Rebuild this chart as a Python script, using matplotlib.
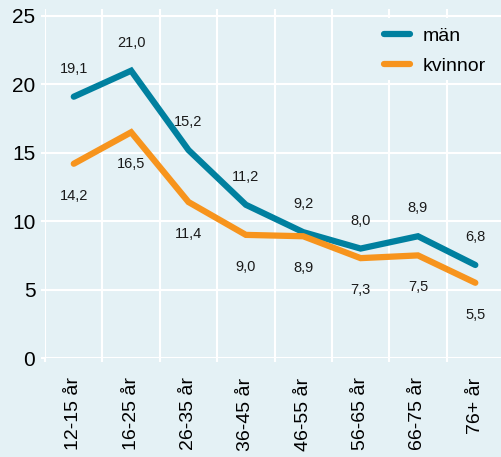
import matplotlib.pyplot as plt
from matplotlib.patches import Rectangle
import numpy as np

plt.rcParams['font.family'] = ['Liberation Sans', 'DejaVu Sans']

age_groups = ['12-15 år', '16-25 år', '26-35 år', '36-45 år', '46-55 år', '56-65 år', '66-75 år', '76+ år']
men = [19.1, 21.0, 15.2, 11.2, 9.2, 8.0, 8.9, 6.8]
women = [14.2, 16.5, 11.4, 9.0, 8.9, 7.3, 7.5, 5.5]

bg = '#e4f1f5'
blue = '#00809f'
orange = '#f7941d'

fig = plt.figure(figsize=(5.01, 4.57), dpi=100, facecolor=bg)
ax = fig.add_axes([0.09, 0.2166, 0.916, 0.7634], facecolor=bg)

x = np.arange(len(age_groups))
ax.plot(x, men, color=blue, lw=4.5, solid_capstyle='round', solid_joinstyle='miter', label='män', zorder=3)
ax.plot(x, women, color=orange, lw=4.5, solid_capstyle='round', solid_joinstyle='miter', label='kvinnor', zorder=3)

def fmt(v):
    return f'{v:.1f}'.replace('.', ',')

for xi, m, w in zip(x, men, women):
    ax.annotate(fmt(m), (xi, m), xytext=(0, 20), textcoords='offset points',
                ha='center', va='center', fontsize=10.5, color='#1a1a1a')
    ax.annotate(fmt(w), (xi, w), xytext=(0, -23), textcoords='offset points',
                ha='center', va='center', fontsize=10.5, color='#1a1a1a')

ax.set_xlim(-0.5, 7.5)
ax.set_ylim(0, 25.5)
ax.set_yticks([0, 5, 10, 15, 20, 25])
ax.set_xticks(x)
ax.set_xticklabels(age_groups, rotation=90, fontsize=14)
ax.set_xticks(np.arange(-0.5, 8, 1), minor=True)
ax.tick_params(axis='y', labelsize=15, color='white', width=1.5, length=3, pad=4)
ax.tick_params(axis='x', which='major', length=0, pad=14)
ax.tick_params(axis='x', which='minor', color='white', width=1.5, length=3)
ax.grid(axis='y', color='white', lw=1.5)
ax.grid(axis='x', which='minor', color='white', lw=1.5)
ax.set_axisbelow(True)
for s in ax.spines.values():
    s.set_visible(False)

# legend background hides the grid behind it
ax.add_patch(Rectangle((0.69, 0.797), 0.35, 0.177, transform=ax.transAxes,
                       facecolor=bg, edgecolor='none', zorder=1.5, clip_on=False))

leg = ax.legend(loc='upper left', bbox_to_anchor=(0.738, 0.948), fontsize=14, frameon=False,
                handlelength=1.34, handletextpad=0.65, borderaxespad=0, borderpad=0,
                labelspacing=0.62)
for line in leg.get_lines():
    line.set_solid_capstyle('round')

fig.savefig('out.png', dpi=100, facecolor=bg)
